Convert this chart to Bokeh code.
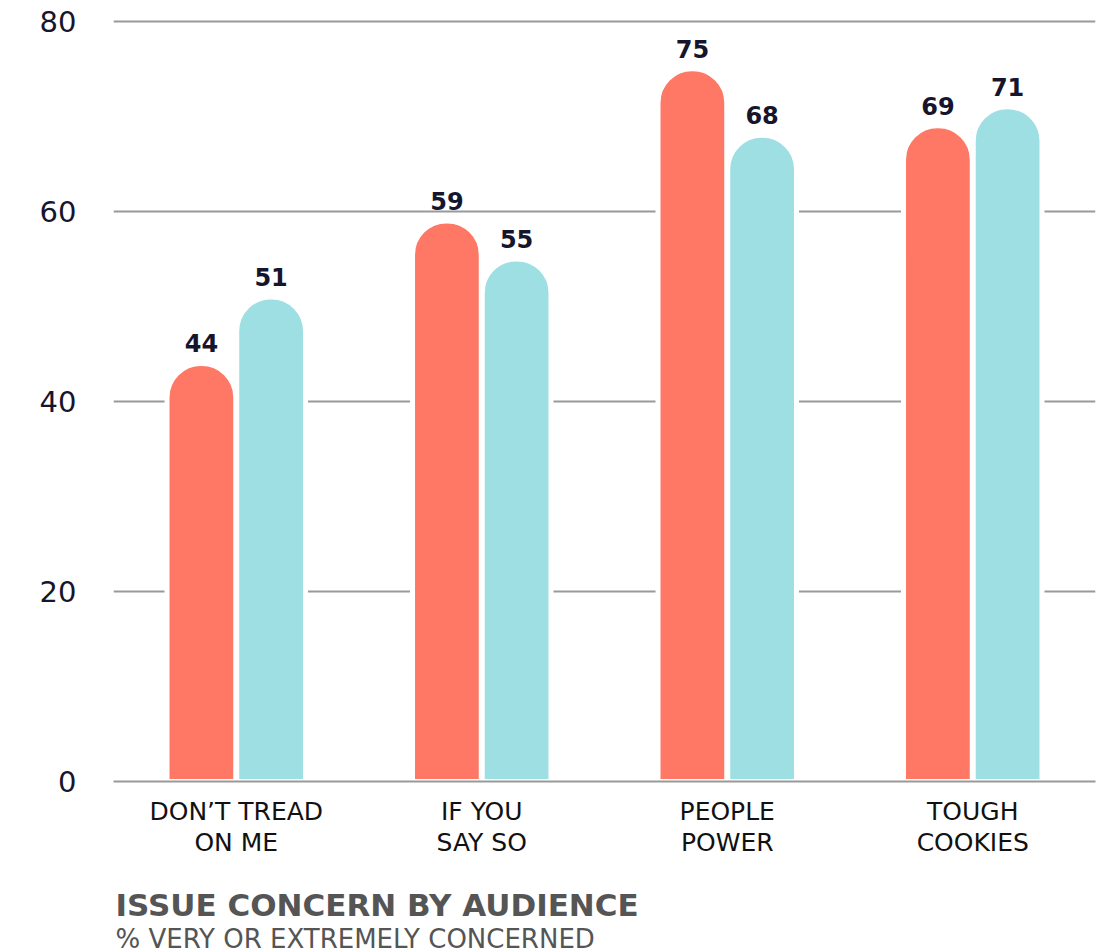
from bokeh.plotting import figure
from bokeh.models import FactorRange, Range1d, ColumnDataSource, Title, FixedTicker
from bokeh.transform import dodge
from bokeh.core.properties import value
from bokeh.embed import file_html
from bokeh.resources import INLINE

# Data
categories = ["DON’T TREAD\nON ME", "IF YOU\nSAY SO", "PEOPLE\nPOWER", "TOUGH\nCOOKIES"]
audience_a = [44, 59, 75, 69]
audience_b = [51, 55, 68, 71]
y_ticks = [0, 20, 40, 60, 80]

CORAL = "#FF7866"
CYAN = "#9EDFE4"
GRID = "#999999"
INK = "#16152b"
SANS = "DejaVu Sans"

source = ColumnDataSource(dict(
    cat=categories,
    a=audience_a,
    b=audience_b,
    a_txt=[str(v) for v in audience_a],
    b_txt=[str(v) for v in audience_b],
))

p = figure(
    width=1114, height=952,
    x_range=FactorRange(*categories, range_padding=0),
    y_range=Range1d(0, 80.3),
    output_backend="svg", toolbar_location=None,
    min_border_left=113, min_border_right=19,
    min_border_top=18, min_border_bottom=171,
)
p.outline_line_color = None
p.background_fill_color = "white"
p.border_fill_color = "white"

bar_w = 0.28
shift = 0.142
radius = 34

p.vbar(x=dodge("cat", -shift, range=p.x_range), top="a", width=bar_w, source=source,
       fill_color=CORAL, line_color="white", line_width=5,
       border_radius=(radius, radius, 0, 0))
p.vbar(x=dodge("cat", shift, range=p.x_range), top="b", width=bar_w, source=source,
       fill_color=CYAN, line_color="white", line_width=5,
       border_radius=(radius, radius, 0, 0))

label_style = dict(text_align="center", text_baseline="alphabetic", y_offset=-20,
                   text_font=value(SANS), text_font_style="bold",
                   text_font_size="24px", text_color=INK, source=source)
p.text(x=dodge("cat", -shift, range=p.x_range), y="a", text="a_txt", **label_style)
p.text(x=dodge("cat", shift, range=p.x_range), y="b", text="b_txt", **label_style)

# Grid
p.xgrid.visible = False
p.ygrid.ticker = FixedTicker(ticks=y_ticks)
p.ygrid.grid_line_color = GRID
p.ygrid.grid_line_width = 2

# Y axis
p.yaxis.ticker = FixedTicker(ticks=y_ticks)
p.yaxis.axis_line_color = None
p.yaxis.major_tick_line_color = None
p.yaxis.minor_tick_line_color = None
p.yaxis.major_label_standoff = 31
p.yaxis.major_label_text_font = SANS
p.yaxis.major_label_text_font_size = "29px"
p.yaxis.major_label_text_color = INK

# X axis
p.xaxis.axis_line_color = GRID
p.xaxis.axis_line_width = 2
p.xaxis.major_tick_line_color = None
p.xaxis.minor_tick_line_color = None
p.xaxis.major_label_standoff = 9
p.xaxis.major_label_text_font = SANS
p.xaxis.major_label_text_font_size = "25px"
p.xaxis.major_label_text_color = "#111111"
p.xaxis.major_label_text_line_height = 1.07

# Titles under the chart
p.add_layout(Title(text="ISSUE CONCERN BY AUDIENCE", align="left", vertical_align="top",
                   offset=2, text_font=SANS, text_font_style="bold", text_font_size="31px",
                   text_color="#555555", standoff=54), "below")
p.add_layout(Title(text="% VERY OR EXTREMELY CONCERNED", align="left", vertical_align="top",
                   offset=2, text_font=SANS, text_font_style="normal", text_font_size="26px",
                   text_color="#555555", standoff=-56), "below")

open("out.html", "w").write(file_html(p, INLINE))
